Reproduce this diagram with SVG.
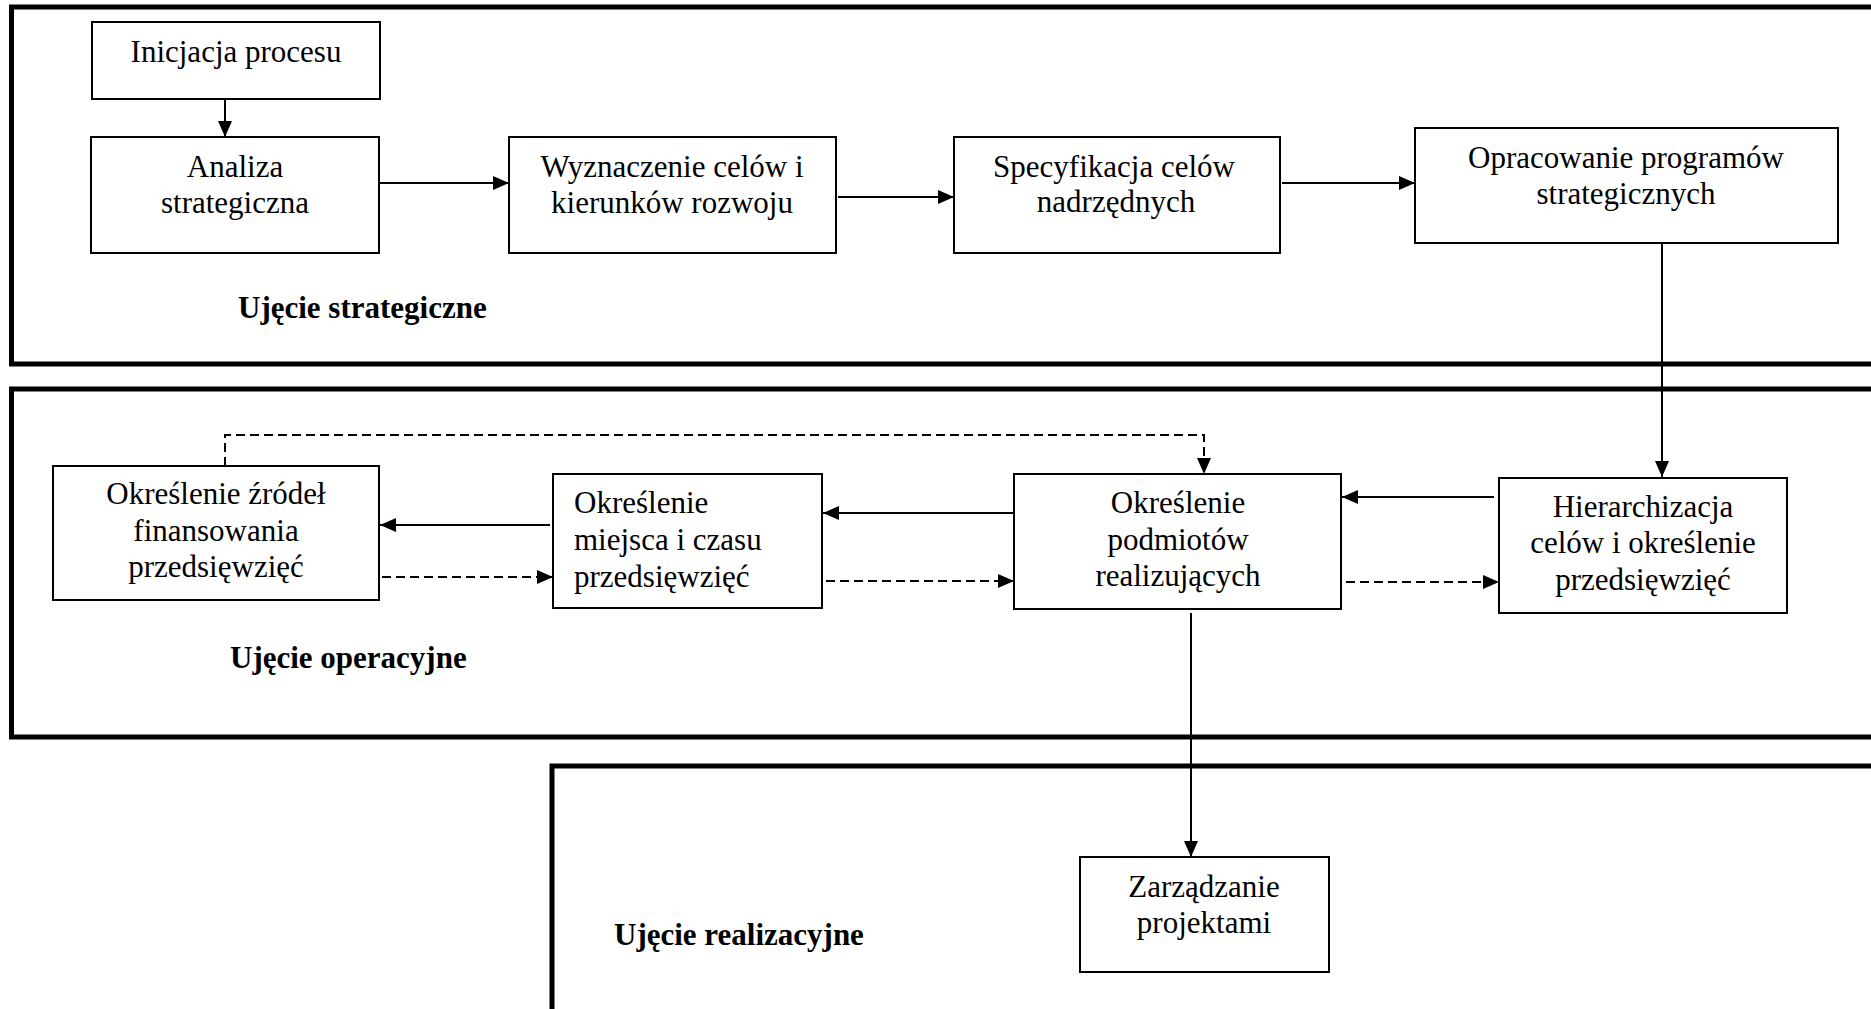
<svg xmlns="http://www.w3.org/2000/svg" width="1871" height="1009" viewBox="0 0 1871 1009">
<defs>
<style>
.frame{fill:none;stroke:#000;stroke-width:5}
.box{fill:#fff;stroke:#000;stroke-width:2}
.t{font-family:"Liberation Serif","Times New Roman",serif;font-size:31px;fill:#000;text-anchor:middle}
.tl{text-anchor:start}
.lbl{font-family:"Liberation Serif","Times New Roman",serif;font-size:31px;font-weight:bold;fill:#000}
.c{fill:none;stroke:#000;stroke-width:2}
.d{stroke-dasharray:9 5}
</style>
<marker id="ah" markerUnits="userSpaceOnUse" markerWidth="16" markerHeight="14" viewBox="0 0 16 14" refX="16" refY="7" orient="auto">
<path d="M0,0 L16,7 L0,14 z" fill="#000"/>
</marker>
</defs>
<rect width="1871" height="1009" fill="#fff"/>

<g id="frames">
<rect class="frame" x="11.5" y="7" width="1900" height="357"/>
<rect class="frame" x="11.5" y="389" width="1900" height="348"/>
<rect class="frame" x="552" y="766" width="1400" height="300"/>
</g>

<g id="labels">
<text class="lbl" x="238" y="318">Ujęcie strategiczne</text>
<text class="lbl" x="230" y="668">Ujęcie operacyjne</text>
<text class="lbl" x="614" y="945">Ujęcie realizacyjne</text>
</g>

<g id="connectors">
<line class="c" x1="225" y1="99" x2="225" y2="137" marker-end="url(#ah)"/>
<line class="c" x1="376" y1="183" x2="509" y2="183" marker-end="url(#ah)"/>
<line class="c" x1="838" y1="197" x2="954" y2="197" marker-end="url(#ah)"/>
<line class="c" x1="1282" y1="183" x2="1415" y2="183" marker-end="url(#ah)"/>
<line class="c" x1="1662" y1="243" x2="1662" y2="477" marker-end="url(#ah)"/>
<line class="c" x1="1494" y1="497" x2="1342" y2="497" marker-end="url(#ah)"/>
<line class="c" x1="1014" y1="513" x2="823" y2="513" marker-end="url(#ah)"/>
<line class="c" x1="550" y1="525" x2="380" y2="525" marker-end="url(#ah)"/>
<line class="c d" x1="382" y1="577" x2="553" y2="577" marker-end="url(#ah)"/>
<line class="c d" x1="826" y1="581" x2="1014" y2="581" marker-end="url(#ah)"/>
<line class="c d" x1="1346" y1="582" x2="1499" y2="582" marker-end="url(#ah)"/>
<polyline class="c d" points="225,466 225,435 1204,435 1204,474" marker-end="url(#ah)"/>
<line class="c" x1="1191" y1="613" x2="1191" y2="857" marker-end="url(#ah)"/>
</g>

<g id="n-inicjacja">
<rect class="box" x="92" y="22" width="288" height="77"/>
<text class="t" x="236" y="62">Inicjacja procesu</text>
</g>
<g id="n-analiza">
<rect class="box" x="91" y="137" width="288" height="116"/>
<text class="t" x="235" y="177">Analiza</text>
<text class="t" x="235" y="213">strategiczna</text>
</g>
<g id="n-wyznaczenie">
<rect class="box" x="509" y="137" width="327" height="116"/>
<text class="t" x="672" y="177">Wyznaczenie celów i</text>
<text class="t" x="672" y="213">kierunków rozwoju</text>
</g>
<g id="n-specyfikacja">
<rect class="box" x="954" y="137" width="326" height="116"/>
<text class="t" x="1114" y="177">Specyfikacja celów</text>
<text class="t" x="1116" y="212">nadrzędnych</text>
</g>
<g id="n-opracowanie">
<rect class="box" x="1415" y="128" width="423" height="115"/>
<text class="t" x="1626" y="168">Opracowanie programów</text>
<text class="t" x="1626" y="204">strategicznych</text>
</g>
<g id="n-hierarchizacja">
<rect class="box" x="1499" y="478" width="288" height="135"/>
<text class="t" x="1643" y="517">Hierarchizacja</text>
<text class="t" x="1643" y="553">celów i określenie</text>
<text class="t" x="1643" y="590">przedsięwzięć</text>
</g>
<g id="n-podmioty">
<rect class="box" x="1014" y="474" width="327" height="135"/>
<text class="t" x="1178" y="513">Określenie</text>
<text class="t" x="1178" y="550">podmiotów</text>
<text class="t" x="1178" y="586">realizujących</text>
</g>
<g id="n-miejsce">
<rect class="box" x="553" y="474" width="269" height="134"/>
<text class="t tl" x="574" y="513">Określenie</text>
<text class="t tl" x="574" y="550">miejsca i czasu</text>
<text class="t tl" x="574" y="587">przedsięwzięć</text>
</g>
<g id="n-zrodla">
<rect class="box" x="53" y="466" width="326" height="134"/>
<text class="t" x="216" y="504">Określenie źródeł</text>
<text class="t" x="216" y="541">finansowania</text>
<text class="t" x="216" y="577">przedsięwzięć</text>
</g>
<g id="n-zarzadzanie">
<rect class="box" x="1080" y="857" width="249" height="115"/>
<text class="t" x="1204" y="897">Zarządzanie</text>
<text class="t" x="1204" y="933">projektami</text>
</g>
</svg>
